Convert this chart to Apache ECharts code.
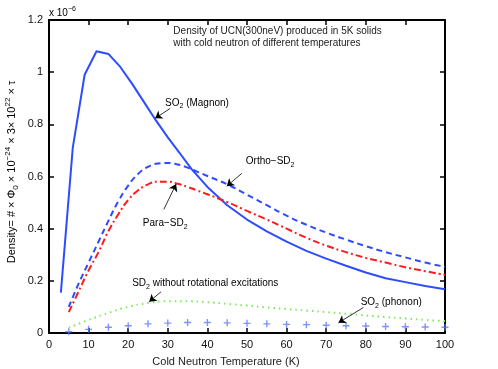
<!DOCTYPE html>
<html>
<head>
<meta charset="utf-8">
<script src="https://cdn.jsdelivr.net/npm/echarts@6/dist/echarts.min.js"></script>
<style>
  html, body { margin: 0; padding: 0; background: #fff; }
  #chart { width: 498px; height: 369px; }
</style>
</head>
<body>
<div id="chart"></div>
<script>
// cold neutron temperature (K) and densities (x 1e-6)
var magnonT = [3, 6, 9, 12, 15, 18, 21, 24, 27, 30, 33, 36, 40, 45, 50, 55, 60, 65, 70, 75, 80, 85, 90, 95, 100];
var magnonY = [0.155, 0.71, 0.99, 1.08, 1.07, 1.02, 0.955, 0.885, 0.815, 0.75, 0.69, 0.628, 0.56, 0.49, 0.435, 0.39, 0.35, 0.315, 0.285, 0.258, 0.232, 0.21, 0.195, 0.18, 0.168];

var sd2T = [5, 7.5, 10, 12.5, 15, 17.5, 20, 22.5, 25, 27.5, 30, 32.5, 35, 37.5, 40, 45, 50, 55, 60, 65, 70, 75, 80, 85, 90, 95, 100];
var orthoY = [0.10, 0.19, 0.27, 0.35, 0.43, 0.505, 0.565, 0.61, 0.637, 0.65, 0.652, 0.646, 0.634, 0.618, 0.602, 0.57, 0.53, 0.49, 0.45, 0.415, 0.385, 0.358, 0.333, 0.31, 0.29, 0.27, 0.254];
var paraY = [0.08, 0.16, 0.24, 0.31, 0.39, 0.455, 0.51, 0.547, 0.57, 0.58, 0.58, 0.572, 0.56, 0.546, 0.532, 0.502, 0.468, 0.435, 0.40, 0.365, 0.335, 0.31, 0.288, 0.27, 0.252, 0.237, 0.223];

var noRotT = [5, 10, 15, 20, 25, 30, 35, 40, 45, 50, 55, 60, 65, 70, 75, 80, 85, 90, 95, 100];
var noRotY = [0.02, 0.05, 0.077, 0.1, 0.115, 0.122, 0.122, 0.118, 0.112, 0.105, 0.098, 0.092, 0.086, 0.08, 0.074, 0.067, 0.061, 0.056, 0.05, 0.046];

var phononT = [5, 10, 15, 20, 25, 30, 35, 40, 45, 50, 55, 60, 65, 70, 75, 80, 85, 90, 95, 100];
var phononY = [0.005, 0.014, 0.022, 0.028, 0.035, 0.038, 0.04, 0.04, 0.039, 0.037, 0.035, 0.033, 0.032, 0.03, 0.028, 0.027, 0.025, 0.024, 0.023, 0.022];

var xTicks = [0, 10, 20, 30, 40, 50, 60, 70, 80, 90, 100];
var yTicks = [0, 0.2, 0.4, 0.6, 0.8, 1, 1.2];

// annotation arrows: tail -> tip, text anchor (data coords)
var notes = [
  { rich: '{n|SO}{s|2}{n| (Magnon)}', at: [29.3, 0.882], tail: [30.6, 0.861], tip: [26.8, 0.823] },
  { rich: '{n|Ortho\u2212SD}{s|2}', at: [49.7, 0.659], tail: [48.7, 0.612], tip: [44.9, 0.563] },
  { rich: '{n|Para\u2212SD}{s|2}', at: [23.7, 0.42], tail: [29.0, 0.474], tip: [32.1, 0.571] },
  { rich: '{n|SD}{s|2}{n| without rotational excitations}', at: [21.0, 0.19], tail: [28.3, 0.158], tip: [25.3, 0.12] },
  { rich: '{n|SO}{s|2}{n| (phonon)}', at: [78.7, 0.118], tail: [79.4, 0.098], tip: [73.1, 0.039] }
];

function pairs(xs, ys) {
  return xs.map(function (x, i) { return [x, ys[i]]; });
}

var FONT = 'Liberation Sans, Arial, sans-serif';
var BLUE = '#2e4cff';
var richStyle = {
  n: { fontSize: 10, fontFamily: FONT, color: '#222' },
  s: { fontSize: 7, fontFamily: FONT, color: '#222', padding: [7, 0, 0, 0] },
  p: { fontSize: 7, fontFamily: FONT, color: '#222', padding: [0, 0, 7, 0] }
};

var chart = echarts.init(document.getElementById('chart'));

var axisCommon = {
  type: 'value',
  axisLine: { show: true, onZero: false, lineStyle: { color: '#000', width: 2 } },
  axisTick: { show: true, inside: true, length: 5, lineStyle: { color: '#000', width: 1.5 } },
  splitLine: { show: false }
};

var option = {
  animation: false,
  backgroundColor: '#fff',
  grid: { left: 49, right: 53, top: 20, bottom: 36 },
  xAxis: [
    Object.assign({}, axisCommon, {
      min: 0, max: 100, interval: 10,
      axisLabel: { fontSize: 11, fontFamily: FONT, color: '#111', margin: 6 }
    }),
    Object.assign({}, axisCommon, {
      position: 'top', min: 0, max: 100, interval: 10,
      axisLabel: { show: false }
    })
  ],
  yAxis: [
    Object.assign({}, axisCommon, {
      min: 0, max: 1.2, interval: 0.2,
      axisLabel: { fontSize: 11, fontFamily: FONT, color: '#111', margin: 6 }
    }),
    Object.assign({}, axisCommon, {
      position: 'right', min: 0, max: 1.2, interval: 0.2,
      axisLabel: { show: false }
    })
  ],
  series: [
    {
      name: 'SO2 (Magnon)', type: 'line', data: pairs(magnonT, magnonY),
      showSymbol: false, lineStyle: { color: BLUE, width: 2 },
      markLine: {
        silent: true, symbol: ['none', 'arrow'], symbolSize: 7,
        label: { show: false },
        lineStyle: { color: '#000', width: 0.8, type: 'solid' },
        data: notes.map(function (n) { return [{ coord: n.tail }, { coord: n.tip }]; })
      }
    },
    {
      name: 'Ortho-SD2', type: 'line', data: pairs(sd2T, orthoY), smooth: true,
      showSymbol: false, lineStyle: { color: BLUE, width: 2, type: [6, 4] }
    },
    {
      name: 'Para-SD2', type: 'line', data: pairs(sd2T, paraY), smooth: true,
      showSymbol: false, lineStyle: { color: '#ff1a1a', width: 2, type: [7, 3, 2, 3] }
    },
    {
      name: 'SD2 no rot', type: 'line', data: pairs(noRotT, noRotY), smooth: true,
      showSymbol: false, lineStyle: { color: '#7ee85a', width: 2, type: [1.5, 4] }
    },
    {
      name: 'SO2 (phonon)', type: 'scatter', data: pairs(phononT, phononY),
      symbol: 'path://M4,0H6V4H10V6H6V10H4V6H0V4H4Z', symbolSize: 7,
      itemStyle: { color: '#5a78ff' }
    }
  ]
};

chart.setOption(option);

var gfx = notes.map(function (n) {
  var p = chart.convertToPixel({ gridIndex: 0 }, n.at);
  return {
    type: 'text', x: p[0], y: p[1],
    style: { text: n.rich, rich: richStyle, verticalAlign: 'middle' }
  };
});

var tp = chart.convertToPixel({ gridIndex: 0 }, [31.4, 1.133]);
gfx.push({
  type: 'text', x: tp[0], y: tp[1],
  style: {
    text: 'Density of UCN(300neV) produced in 5K solids\nwith cold neutron of different temperatures',
    font: '10px ' + FONT, fill: '#222', lineHeight: 12, verticalAlign: 'middle'
  }
});

// exponent above the y axis
gfx.push({
  type: 'text', x: 49, y: 13,
  style: { text: '{n|x 10}{p|\u22126}', rich: richStyle, verticalAlign: 'middle' }
});

// axis titles
gfx.push({
  type: 'text', x: 226, y: 362,
  style: { text: 'Cold Neutron Temperature (K)', font: '11px ' + FONT, fill: '#222', align: 'center', verticalAlign: 'middle' }
});
gfx.push({
  type: 'text', x: 12, y: 172, rotation: Math.PI / 2,
  style: {
    text: '{n|Density= # \u00d7 \u03a6}{s|0}{n| \u00d7 10}{p|\u221224}{n| \u00d7 3\u00d7 10}{p|22}{n| \u00d7 \u03c4}',
    rich: {
      n: { fontSize: 11, fontFamily: FONT, color: '#222' },
      s: { fontSize: 8, fontFamily: FONT, color: '#222', padding: [8, 0, 0, 0] },
      p: { fontSize: 8, fontFamily: FONT, color: '#222', padding: [0, 0, 8, 0] }
    },
    align: 'center', verticalAlign: 'middle'
  }
});

chart.setOption({ graphic: gfx });
</script>
</body>
</html>
